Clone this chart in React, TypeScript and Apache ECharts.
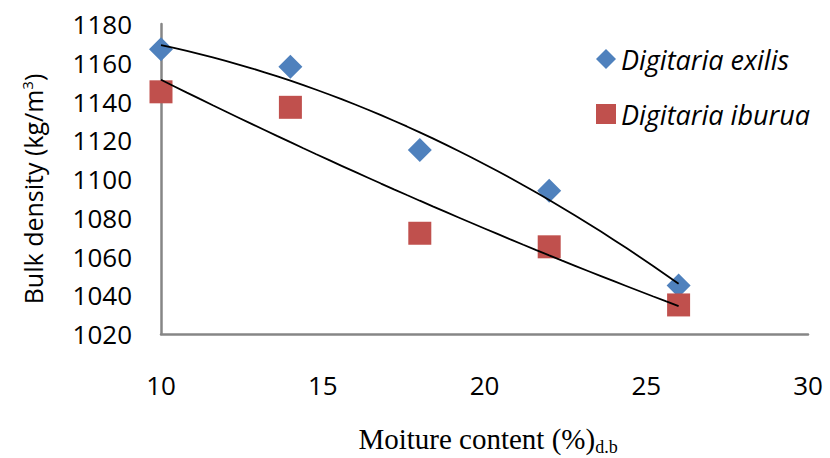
import React, { useEffect, useRef } from "react";
import * as echarts from "echarts";

// Moisture content (% d.b.) at which bulk density was measured
const moisture = [10, 14, 18, 22, 26];
// Bulk density (kg/m3) for each grain variety
const exilisDensity = [1167, 1158, 1115, 1094, 1045];
const iburuaDensity = [1145, 1137, 1072, 1065, 1035];

const seriesNames = ["Digitaria exilis", "Digitaria iburua"];
const xTicks = { min: 10, max: 30, interval: 5 };
const yTicks = { min: 1020, max: 1180, interval: 20 };

// Second-order least-squares fit, returned as sampled points for a trend line
function quadFitLine(xs: number[], ys: number[], steps = 40): number[][] {
  const n = xs.length;
  let s1 = 0, s2 = 0, s3 = 0, s4 = 0, t0 = 0, t1 = 0, t2 = 0;
  for (let i = 0; i < n; i++) {
    const x = xs[i], y = ys[i];
    s1 += x; s2 += x * x; s3 += x * x * x; s4 += x * x * x * x;
    t0 += y; t1 += x * y; t2 += x * x * y;
  }
  // Solve the 3x3 normal equations with Cramer's rule
  const m = [
    [n, s1, s2],
    [s1, s2, s3],
    [s2, s3, s4],
  ];
  const det3 = (a: number[][]) =>
    a[0][0] * (a[1][1] * a[2][2] - a[1][2] * a[2][1]) -
    a[0][1] * (a[1][0] * a[2][2] - a[1][2] * a[2][0]) +
    a[0][2] * (a[1][0] * a[2][1] - a[1][1] * a[2][0]);
  const rhs = [t0, t1, t2];
  const d = det3(m);
  const coef = [0, 1, 2].map((c) => {
    const mc = m.map((row, r) => row.map((v, k) => (k === c ? rhs[r] : v)));
    return det3(mc) / d;
  });
  const x0 = xs[0], x1 = xs[n - 1];
  const pts: number[][] = [];
  for (let i = 0; i <= steps; i++) {
    const x = x0 + ((x1 - x0) * i) / steps;
    pts.push([x, coef[0] + coef[1] * x + coef[2] * x * x]);
  }
  return pts;
}

const sans = "'Open Sans', 'Noto Sans', sans-serif";
const serif = "'Liberation Serif', 'Times New Roman', serif";

export default function App() {
  const ref = useRef<HTMLDivElement>(null);

  useEffect(() => {
    document.body.style.margin = "0";
    if (!ref.current) return;
    const chart = echarts.init(ref.current, null, { renderer: "svg" });

    const exilisPts = moisture.map((x, i) => [x, exilisDensity[i]]);
    const iburuaPts = moisture.map((x, i) => [x, iburuaDensity[i]]);

    chart.setOption({
      animation: false,
      backgroundColor: "#ffffff",
      grid: { left: 161, right: 22, top: 24, bottom: 124, containLabel: false },
      legend: {
        orient: "vertical",
        left: 591,
        top: 37,
        itemWidth: 20,
        itemHeight: 20,
        itemGap: 21,
        data: [
          { name: seriesNames[0], icon: "diamond" },
          { name: seriesNames[1], icon: "rect" },
        ],
        textStyle: {
          fontFamily: sans,
          fontStyle: "italic",
          fontSize: 27,
          lineHeight: 34,
          color: "#000",
        },
      },
      graphic: [
        {
          type: "text",
          x: 33,
          y: 189,
          rotation: Math.PI / 2,
          style: {
            text: "{a|Bulk density (kg/m}{s|3}{a|)}",
            align: "center",
            verticalAlign: "middle",
            rich: {
              a: { fontFamily: sans, fontSize: 25, fill: "#000", color: "#000" },
              s: {
                fontFamily: sans,
                fontSize: 15,
                fill: "#000",
                color: "#000",
                padding: [0, 0, 13, 0],
              },
            },
          },
        },
        {
          type: "text",
          x: 488,
          y: 439,
          style: {
            text: "{a|Moiture content (%)}{b|d.b}",
            align: "center",
            verticalAlign: "middle",
            rich: {
              a: { fontFamily: serif, fontSize: 29, fill: "#000", color: "#000" },
              b: {
                fontFamily: serif,
                fontSize: 18,
                fill: "#000",
                color: "#000",
                padding: [16, 0, 0, 0],
              },
            },
          },
        },
      ],
      xAxis: {
        type: "value",
        min: xTicks.min,
        max: xTicks.max,
        interval: xTicks.interval,
        axisLine: { show: true, lineStyle: { color: "#868686", width: 2.5 } },
        axisTick: { show: false },
        splitLine: { show: false },
        axisLabel: {
          fontFamily: sans,
          fontSize: 26,
          color: "#000",
          margin: 38,
          formatter: (v: number) => String(v),
        },
      },
      yAxis: {
        type: "value",
        min: yTicks.min,
        max: yTicks.max,
        interval: yTicks.interval,
        axisLine: { show: true, lineStyle: { color: "#868686", width: 2.5 } },
        axisTick: { show: false },
        splitLine: { show: false },
        axisLabel: {
          fontFamily: sans,
          fontSize: 26,
          color: "#000",
          margin: 29,
          formatter: (v: number) => String(v),
        },
      },
      series: [
        {
          name: "exilis trend",
          type: "line",
          data: quadFitLine(moisture, exilisDensity),
          showSymbol: false,
          symbol: "none",
          silent: true,
          lineStyle: { color: "#000", width: 1.8 },
          z: 3,
        },
        {
          name: "iburua trend",
          type: "line",
          data: quadFitLine(moisture, iburuaDensity),
          showSymbol: false,
          symbol: "none",
          silent: true,
          lineStyle: { color: "#000", width: 1.8 },
          z: 3,
        },
        {
          name: seriesNames[0],
          type: "scatter",
          symbol: "diamond",
          symbolSize: 24,
          data: exilisPts,
          itemStyle: { color: "#4F81BD", opacity: 1 },
          z: 2,
        },
        {
          name: seriesNames[1],
          type: "scatter",
          symbol: "rect",
          symbolSize: 23,
          data: iburuaPts,
          itemStyle: { color: "#C0504D", opacity: 1 },
          z: 2,
        },
      ],
    });

    return () => chart.dispose();
  }, []);

  return <div ref={ref} style={{ width: 830, height: 458 }} />;
}
